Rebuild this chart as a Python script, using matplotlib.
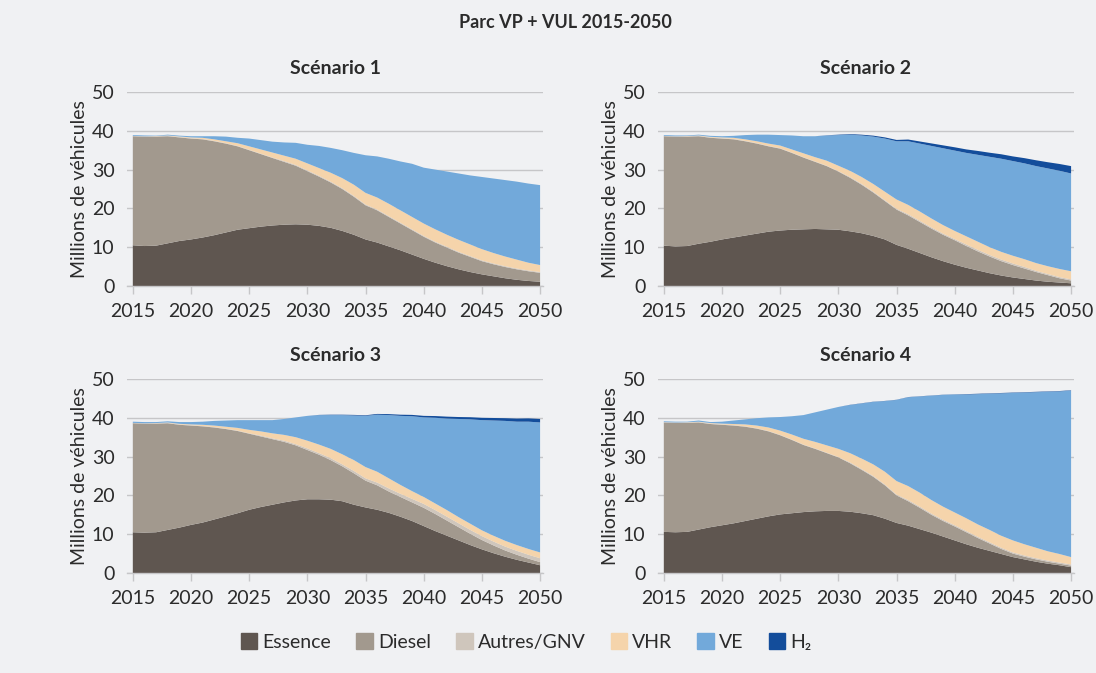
import numpy as np
import matplotlib.pyplot as plt

plt.rcParams['font.family'] = ['Lato', 'DejaVu Sans']

years = np.arange(2015, 2051)

series_names = ['Essence', 'Diesel', 'Autres/GNV', 'VHR', 'VE', 'H₂']
series_colors = ['#5f5650', '#a2998e', '#cfc6bc', '#f5d4ab', '#72a9da', '#134d9b']

# Scénario 1 (millions de véhicules)
s1_essence = [10.5, 10.3, 10.4, 11.0, 11.6, 12.0, 12.5, 13.1, 13.8, 14.5, 14.9, 15.3, 15.6, 15.8, 15.9, 15.8, 15.5, 15.0,
              14.2, 13.2, 12.0, 11.2, 10.2, 9.2, 8.1, 7.0, 6.0, 5.1, 4.3, 3.6, 3.0, 2.5, 2.0, 1.6, 1.3, 1.1]
s1_diesel = [28.1, 28.2, 28.1, 27.6, 26.7, 26.0, 25.3, 24.2, 22.9, 21.5, 20.1, 18.7, 17.4, 16.2, 15.1, 13.8, 12.7, 11.7,
             10.8, 9.8, 8.8, 8.3, 7.6, 6.9, 6.3, 5.7, 5.2, 4.8, 4.3, 3.9, 3.4, 3.1, 2.9, 2.7, 2.5, 2.3]
s1_autres = [0.1] * 13 + [0.2] * 23
s1_vhr = [0.0, 0.0, 0.05, 0.1, 0.15, 0.2, 0.3, 0.4, 0.5, 0.7, 0.9, 1.1, 1.3, 1.4, 1.6, 1.8, 2.0, 2.3,
          2.6, 2.9, 3.0, 3.1, 3.2, 3.2, 3.2, 3.2, 3.2, 3.1, 3.1, 3.0, 2.9, 2.7, 2.5, 2.3, 2.0, 1.8]
s1_ve = [0.2, 0.2, 0.1, 0.2, 0.2, 0.3, 0.4, 0.8, 1.2, 1.4, 2.0, 2.4, 2.8, 3.4, 4.1, 4.8, 5.7, 6.4,
         7.2, 8.2, 9.7, 10.6, 11.6, 12.6, 13.7, 14.4, 15.4, 16.3, 17.1, 17.8, 18.6, 19.2, 19.7, 20.1, 20.4, 20.6]
s1_h2 = [0.0] * 36

# Scénario 2
s2_essence = [10.4, 10.2, 10.3, 10.9, 11.4, 12.0, 12.5, 13.0, 13.5, 14.0, 14.3, 14.5, 14.6, 14.7, 14.6, 14.5, 14.1, 13.6,
              12.9, 12.0, 10.6, 9.6, 8.5, 7.4, 6.4, 5.5, 4.7, 4.0, 3.3, 2.7, 2.2, 1.8, 1.4, 1.1, 0.9, 0.7]
s2_diesel = [28.2, 28.3, 28.2, 27.7, 26.8, 26.0, 25.3, 24.3, 23.2, 22.0, 21.1, 19.8, 18.5, 17.3, 16.3, 15.0, 13.8, 12.5,
             11.2, 9.9, 9.1, 8.6, 8.0, 7.4, 6.8, 6.3, 5.6, 4.9, 4.3, 3.7, 3.2, 2.7, 2.2, 1.7, 1.1, 0.7]
s2_autres = [0.1] * 16 + [0.2] * 5 + [0.3] * 5 + [0.4] * 6 + [0.3] * 4
s2_vhr = [0.0, 0.0, 0.05, 0.1, 0.15, 0.2, 0.3, 0.4, 0.5, 0.6, 0.7, 0.8, 1.0, 1.1, 1.3, 1.4, 1.6, 1.8,
          2.0, 2.2, 2.4, 2.4, 2.4, 2.3, 2.2, 2.1, 2.1, 2.1, 2.0, 2.0, 2.0, 2.0, 2.0, 2.0, 2.1, 2.1]
s2_ve = [0.2, 0.2, 0.15, 0.2, 0.25, 0.3, 0.5, 1.1, 1.7, 2.3, 2.7, 3.6, 4.4, 5.4, 6.5, 7.9, 9.3, 10.7,
         12.2, 13.7, 15.0, 16.4, 17.5, 18.7, 19.8, 20.7, 21.5, 22.4, 23.3, 24.0, 24.4, 24.7, 25.0, 25.2, 25.3, 25.2]
s2_h2 = [0.0] * 14 + [0.05, 0.1, 0.15, 0.2, 0.25, 0.3, 0.35, 0.45, 0.55, 0.65, 0.75, 0.85, 0.9, 1.0,
                      1.05, 1.15, 1.2, 1.35, 1.5, 1.6, 1.75, 1.9]

# Scénario 3
s3_essence = [10.5, 10.4, 10.5, 11.1, 11.7, 12.4, 13.0, 13.8, 14.6, 15.4, 16.3, 17.0, 17.6, 18.2, 18.7, 19.0, 19.0, 18.9,
              18.5, 17.6, 16.9, 16.3, 15.5, 14.5, 13.4, 12.1, 10.8, 9.6, 8.4, 7.2, 6.1, 5.1, 4.2, 3.4, 2.7, 2.0]
s3_diesel = [28.1, 28.1, 28.0, 27.5, 26.5, 25.6, 24.8, 23.7, 22.5, 21.2, 19.6, 18.2, 16.9, 15.6, 14.2, 12.7, 11.5, 10.2,
             9.0, 8.1, 6.9, 6.3, 5.5, 5.1, 4.8, 4.7, 4.4, 3.9, 3.4, 2.9, 2.4, 2.0, 1.6, 1.3, 1.0, 0.8]
s3_autres = [0.1] * 11 + [0.2, 0.2, 0.3, 0.3, 0.4, 0.4, 0.5, 0.5, 0.6, 0.6, 0.7, 0.8, 0.8, 0.9] + [1.0] * 11
s3_vhr = [0.0, 0.0, 0.05, 0.1, 0.15, 0.2, 0.3, 0.4, 0.5, 0.7, 0.9, 1.1, 1.3, 1.5, 1.8, 2.0, 2.2, 2.4,
          2.6, 2.8, 2.9, 2.8, 2.6, 2.3, 2.0, 1.8, 1.7, 1.7, 1.6, 1.6, 1.5, 1.5, 1.5, 1.5, 1.5, 1.5]
s3_ve = [0.3, 0.3, 0.25, 0.3, 0.45, 0.6, 0.8, 1.2, 1.6, 2.0, 2.5, 2.9, 3.4, 4.1, 5.1, 6.4, 7.6, 8.7,
         10.1, 11.5, 13.2, 14.7, 16.3, 17.8, 19.3, 20.5, 22.1, 23.6, 25.3, 26.9, 28.4, 29.7, 30.9, 31.8, 32.8, 33.5]
s3_h2 = [0.0] * 16 + [0.05, 0.1, 0.1, 0.15, 0.15, 0.2, 0.25, 0.3, 0.35, 0.4, 0.45, 0.5, 0.5, 0.55,
                      0.6, 0.65, 0.7, 0.8, 0.85, 0.9]

# Scénario 4
s4_essence = [10.6, 10.5, 10.6, 11.2, 11.8, 12.3, 12.8, 13.4, 14.0, 14.6, 15.1, 15.4, 15.7, 15.9, 16.0, 16.0, 15.8, 15.4,
              14.9, 14.0, 12.9, 12.2, 11.3, 10.4, 9.4, 8.4, 7.4, 6.5, 5.7, 4.9, 4.1, 3.5, 2.9, 2.4, 2.0, 1.5]
s4_diesel = [28.2, 28.2, 28.1, 27.6, 26.6, 25.9, 25.2, 24.3, 23.2, 21.9, 20.4, 18.9, 17.3, 16.1, 14.9, 13.8, 12.5, 11.2,
             9.9, 8.6, 7.1, 6.3, 5.5, 4.6, 4.0, 3.6, 3.1, 2.5, 1.9, 1.3, 0.9, 0.7, 0.6, 0.5, 0.4, 0.4]
s4_autres = [0.1] * 16 + [0.2] * 5 + [0.3] * 15
s4_vhr = [0.0, 0.0, 0.05, 0.1, 0.15, 0.2, 0.3, 0.5, 0.7, 0.9, 1.1, 1.3, 1.5, 1.7, 1.9, 2.1, 2.4, 2.7,
          3.0, 3.3, 3.5, 3.6, 3.6, 3.5, 3.4, 3.3, 3.3, 3.2, 3.2, 3.1, 3.1, 2.9, 2.7, 2.4, 2.2, 1.9]
s4_ve = [0.2, 0.2, 0.15, 0.3, 0.25, 0.5, 0.9, 1.3, 1.9, 2.6, 3.5, 4.7, 6.1, 7.6, 9.2, 10.8, 12.4, 14.2,
         16.1, 18.2, 20.9, 22.9, 24.8, 26.9, 28.8, 30.4, 31.9, 33.6, 35.1, 36.7, 38.0, 39.1, 40.1, 41.1, 41.9, 42.9]
s4_h2 = [0.0] * 16 + [0.05] * 10 + [0.1] * 10

scenarios = [
    ('Scénario 1', [s1_essence, s1_diesel, s1_autres, s1_vhr, s1_ve, s1_h2]),
    ('Scénario 2', [s2_essence, s2_diesel, s2_autres, s2_vhr, s2_ve, s2_h2]),
    ('Scénario 3', [s3_essence, s3_diesel, s3_autres, s3_vhr, s3_ve, s3_h2]),
    ('Scénario 4', [s4_essence, s4_diesel, s4_autres, s4_vhr, s4_ve, s4_h2]),
]

bg = '#f0f1f3'
txt = '#2b2b2b'
fig = plt.figure(figsize=(10.96, 6.73), dpi=100, facecolor=bg)

# axes boxes in pixels: left, y of zero line
W, H = 1096, 673
boxes = [(127, 286), (658, 286), (127, 573), (658, 573)]
aw, ah = 416, 194

for (title, data), (px, py) in zip(scenarios, boxes):
    ax = fig.add_axes([px / W, 1 - py / H, aw / W, ah / H], facecolor=bg)
    ax.stackplot(years, *data, colors=series_colors, labels=series_names, linewidth=0, zorder=2)
    ax.set_xlim(2014.5, 2050.25)
    ax.set_ylim(0, 50)
    ax.set_yticks(range(0, 51, 10))
    ax.set_xticks(range(2015, 2051, 5))
    ax.yaxis.grid(True, color='#c6c6c8', linewidth=1.0, zorder=0)
    ax.set_axisbelow(True)
    for s in ['top', 'right', 'left']:
        ax.spines[s].set_visible(False)
    ax.spines['bottom'].set_color('#c6c6c8')
    ax.spines['bottom'].set_linewidth(1.0)
    ax.spines['bottom'].set_zorder(3)
    ax.tick_params(axis='y', length=0, pad=9, labelsize=14, labelcolor=txt)
    ax.tick_params(axis='x', length=6, width=1, color='#c6c6c8', pad=6, labelsize=14, labelcolor=txt)
    ax.set_ylabel('Millions de véhicules', fontsize=14, color=txt, labelpad=3)
    ax.set_title(title, fontsize=14, fontweight='bold', color=txt, pad=13)

fig.text(0.516, 0.967, 'Parc VP + VUL 2015-2050', ha='center', va='center',
         fontsize=13, fontweight='bold', color=txt)

handles = [plt.Rectangle((0, 0), 1, 1, color=c) for c in series_colors]
fig.legend(handles, series_names, loc='center', bbox_to_anchor=(0.48, 0.046), ncol=6,
           frameon=False, fontsize=14, handlelength=0.85, handleheight=0.9,
           handletextpad=0.25, columnspacing=1.3, labelcolor=txt)

fig.savefig('out.png', dpi=100, facecolor=bg)
